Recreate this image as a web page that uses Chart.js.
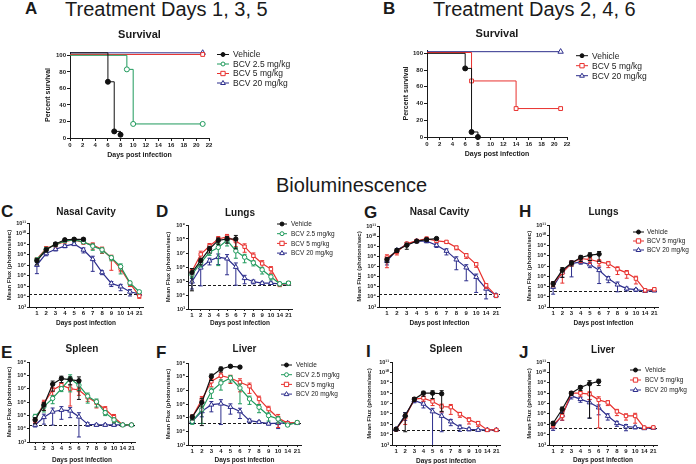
<!DOCTYPE html>
<html lang="en">
<head>
<meta charset="UTF-8">
<title>BCV treatment: survival and bioluminescence</title>
<script src="https://cdn.jsdelivr.net/npm/chart.js"></script>
<style>
  body { margin: 0; background: #fff; }
  #fig { position: relative; width: 696px; height: 464px; overflow: hidden; font-family: "Liberation Sans", Arial, sans-serif; color: #1a1a1a; }
  #fig canvas { position: absolute; }
  .lbl { position: absolute; white-space: nowrap; line-height: 1; }
  .b { font-weight: bold; }
</style>
</head>
<body>
<div id="fig">
  <div class="lbl b" style="left:25px;top:0px;font-size:17px">A</div>
  <div class="lbl" style="left:65px;top:-1px;font-size:20px">Treatment Days 1, 3, 5</div>
  <div class="lbl b" style="left:383px;top:0px;font-size:17px">B</div>
  <div class="lbl" style="left:433px;top:-1px;font-size:20px">Treatment Days 2, 4, 6</div>
  <div class="lbl" style="left:276px;top:175px;font-size:20px">Bioluminescence</div>
  <div class="lbl b" style="left:1px;top:203px;font-size:17px">C</div>
  <div class="lbl b" style="left:156px;top:203px;font-size:17px">D</div>
  <div class="lbl b" style="left:364px;top:204px;font-size:17px">G</div>
  <div class="lbl b" style="left:519px;top:203px;font-size:17px">H</div>
  <div class="lbl b" style="left:1px;top:344px;font-size:17px">E</div>
  <div class="lbl b" style="left:156px;top:344px;font-size:17px">F</div>
  <div class="lbl b" style="left:366px;top:343px;font-size:17px">I</div>
  <div class="lbl b" style="left:519px;top:344px;font-size:17px">J</div>
</div>
<script>
// ---- data ----
const days = ['1', '2', '3', '4', '5', '6', '7', '8', '9', '10', '14', '21'];

// survival (day of each step, percent surviving)
const vehA_days = [0, 6, 7, 8],     vehA_pct = [103, 68, 8, 4];
const bcv25A_days = [0, 9, 10, 21], bcv25A_pct = [100, 83, 17, 17];
const bcv5A_days = [0, 21],         bcv5A_pct = [101, 101];
const bcv20A_days = [0, 21],        bcv20A_pct = [103, 103];

const vehB_days = [0, 6, 7, 8],     vehB_pct = [100, 82, 6, 0];
const bcv5B_days = [0, 7, 14, 21],  bcv5B_pct = [101, 67, 34, 34];
const bcv20B_days = [0, 21],        bcv20B_pct = [102, 102];

// bioluminescence: log10 mean flux, and SEM as fraction of mean
const cVeh = [7.4, 8.45, 9.0, 9.4, 9.45, 9.45],  cVehSem = [0.6, 0.4, 0.4, 0.3, 0.3, 0.3];
const c25 = [7.5, 8.5, 8.95, 9.3, 9.4, 9.2, 8.8, 8.45, 7.7, 6.85, 5.3, 4.45];
const c25Sem = [0.4, 0.4, 0.3, 0.3, 0.3, 0.3, 0.6, 0.5, 0.5, 0.8, 0.4, 0.3];
const c5 = [7.55, 8.6, 8.9, 9.25, 9.4, 9.15, 8.9, 8.5, 7.65, 6.65, 5.25, 4.05];
const c5Sem = [0.3, 0.4, 0.3, 0.3, 0.3, 0.3, 0.6, 0.6, 0.93, 0.5, 0.5, 0.4];
const c20 = [7.0, 8.1, 8.5, 8.8, 9.0, 8.45, 7.55, 6.3, 5.25, 4.95, 4.45, 4.25];
const c20Sem = [0.85, 0.4, 0.3, 0.3, 0.3, 0.5, 0.93, 0.4, 0.5, 0.6, 0.6, 0.3];

const dVeh = [5.6, 6.45, 7.3, 7.9, 8.0, 8.0],  dVehSem = [0.95, 0.5, 0.5, 0.5, 0.5, 0.8];
const d25 = [5.45, 6.3, 7.05, 7.4, 7.9, 7.15, 6.7, 6.3, 5.8, 5.3, 4.8, 4.85];
const d25Sem = [0.4, 0.5, 0.4, 0.95, 0.6, 0.7, 0.6, 0.4, 0.5, 0.4, 0.3, 0.3];
const d5 = [5.7, 6.9, 7.5, 8.0, 8.15, 7.85, 7.45, 6.8, 6.25, 5.85, 4.75, 4.85];
const d5Sem = [0.5, 0.7, 0.5, 0.5, 0.5, 0.6, 0.6, 0.6, 0.6, 0.5, 0.3, 0.3];
const d20 = [4.95, 5.95, 6.45, 6.7, 6.6, 6.0, 5.2, 4.95, 4.85, 4.85, 4.8, 4.8];
const d20Sem = [0.7, 0.95, 0.5, 0.7, 0.93, 0.95, 0.6, 0.3, 0.2, 0.2, 0.2, 0.2];

const eVeh = [4.66, 5.77, 7.34, 7.76, 7.68, 7.59],  eVehSem = [0.5, 0.6, 0.7, 0.5, 0.6, 0.96];
const e25 = [4.9, 5.65, 6.27, 7.0, 7.76, 7.26, 6.44, 6.02, 5.2, 4.66, 4.28, 4.28];
const e25Sem = [0.5, 0.6, 0.6, 0.4, 0.9, 0.6, 0.7, 0.6, 0.4, 0.4, 0.2, 0.2];
const e5 = [4.66, 5.9, 6.9, 7.26, 7.0, 6.9, 6.35, 5.95, 5.45, 4.86, 4.28, 4.28];
const e5Sem = [0.4, 0.7, 0.6, 0.5, 0.95, 0.6, 0.5, 0.6, 0.6, 0.6, 0.2, 0.2];
const e20 = [4.28, 4.86, 5.27, 5.4, 5.35, 4.9, 4.33, 4.28, 4.28, 4.28, 4.28, 4.28];
const e20Sem = [0.3, 0.7, 0.9, 0.8, 0.7, 0.97, 0.3, 0.2, 0.2, 0.2, 0.2, 0.2];

const fVeh = [5.05, 6.12, 8.02, 8.56, 8.76, 8.7],  fVehSem = [0.4, 0.98, 0.5, 0.4, 0.2, 0.2];
const f25 = [4.73, 5.58, 6.93, 7.54, 7.9, 7.17, 6.37, 5.76, 5.15, 4.9, 4.46, 4.65];
const f25Sem = [0.4, 0.9, 0.7, 0.7, 0.5, 0.93, 0.6, 0.6, 0.6, 0.5, 0.2, 0.2];
const f5 = [5.05, 6.32, 7.66, 8.07, 7.9, 7.59, 7.3, 6.37, 5.63, 4.98, 4.6, 4.65];
const f5Sem = [0.4, 0.7, 0.6, 0.6, 0.6, 0.8, 0.7, 0.6, 0.6, 0.8, 0.2, 0.2];
const f20 = [4.73, 5.46, 5.95, 6.02, 5.78, 5.46, 4.78, 4.68, 4.56, 4.6, 4.6, 4.6];
const f20Sem = [0.3, 0.6, 0.7, 0.97, 0.7, 0.7, 0.3, 0.2, 0.2, 0.6, 0.2, 0.2];

const gVeh = [7.68, 8.6, 9.1, 9.5, 9.66, 9.76],  gVehSem = [0.5, 0.4, 0.6, 0.3, 0.3, 0.2];
const g5 = [7.88, 8.44, 9.26, 9.53, 9.76, 9.53, 9.43, 8.87, 8.1, 7.22, 5.14, 4.12];
const g5Sem = [0.9, 0.5, 0.3, 0.3, 0.3, 0.3, 0.3, 0.4, 0.5, 0.5, 0.5, 0.3];
const g20 = [7.55, 8.6, 9.2, 9.5, 9.5, 9.1, 8.54, 7.68, 6.89, 5.96, 4.8, 4.15];
const g20Sem = [0.6, 0.4, 0.4, 0.3, 0.3, 0.4, 0.6, 0.9, 0.95, 0.97, 0.9, 0.4];

const hVeh = [5.28, 6.59, 7.3, 7.83, 8.06, 8.16],  hVehSem = [0.5, 0.8, 0.5, 0.6, 0.7, 0.8];
const h5 = [5.28, 6.33, 7.3, 7.73, 7.63, 7.4, 7.24, 6.69, 6.33, 5.77, 4.63, 4.73];
const h5Sem = [0.5, 0.9, 0.5, 0.6, 0.6, 0.6, 0.6, 0.7, 0.7, 0.7, 0.3, 0.3];
const h20 = [4.95, 6.42, 7.24, 7.4, 7.14, 6.59, 5.77, 5.18, 4.79, 4.69, 4.56, 4.6];
const h20Sem = [0.8, 0.7, 0.95, 0.4, 0.5, 0.95, 0.6, 0.8, 0.4, 0.3, 0.2, 0.2];

const iVeh = [4.52, 5.8, 7.42, 8.0, 8.0, 7.94],  iVehSem = [0.3, 0.97, 0.4, 0.5, 0.7, 0.98];
const i5 = [4.52, 5.68, 7.42, 7.52, 7.2, 6.71, 6.65, 5.97, 5.42, 5.1, 4.45, 4.45];
const i5Sem = [0.3, 0.8, 0.4, 0.5, 0.6, 0.7, 0.8, 0.5, 0.6, 0.5, 0.2, 0.2];
const i20 = [4.52, 5.9, 7.29, 6.97, 6.23, 5.8, 5.26, 4.71, 4.52, 4.45, 4.45, 4.45];
const i20Sem = [0.3, 0.7, 0.4, 0.6, 0.9995, 0.97, 0.6, 0.6, 0.3, 0.2, 0.2, 0.2];

const jVeh = [5.1, 6.45, 8.0, 8.55, 8.9, 9.13],  jVehSem = [0.4, 0.6, 0.4, 0.5, 0.9995, 0.6];
const j5 = [4.94, 5.8, 8.0, 8.0, 7.9, 7.35, 7.1, 6.23, 5.8, 5.8, 4.68, 4.7];
const j5Sem = [0.5, 0.6, 0.4, 0.5, 0.7, 0.998, 0.5, 0.6, 0.6, 0.8, 0.2, 0.2];
const j20 = [4.71, 5.9, 7.74, 7.42, 7.1, 6.61, 5.8, 5.1, 4.77, 4.71, 4.61, 4.65];
const j20Sem = [0.5, 0.7, 0.5, 0.5, 0.97, 0.8, 0.6, 0.5, 0.6, 0.3, 0.2, 0.2];

// limit of detection (log10)
const lodC = 4.28, lodD = 4.7, lodE = 4.29, lodF = 4.6, lodG = 4.31, lodH = 4.56, lodI = 4.42, lodJ = 4.61;

// ---- styling ----
const FONT = "'Liberation Sans', Arial, sans-serif";
const INK = '#1a1a1a';
Chart.defaults.font.family = FONT;
Chart.defaults.color = INK;

const styleOf = {
  'Vehicle':       { color: '#111111', fill: '#111111', shape: 'circle',   r: 2.2 },
  'BCV 2.5 mg/kg': { color: '#1f9a5c', fill: '#ffffff', shape: 'circle',   r: 2.2 },
  'BCV 5 mg/kg':   { color: '#e8312e', fill: '#ffffff', shape: 'rect',     r: 2.4 },
  'BCV 20 mg/kg':  { color: '#2d2e8c', fill: '#ffffff', shape: 'triangle', r: 2.8 }
};

const SUP = '⁰¹²³⁴⁵⁶⁷⁸⁹';
function pow10Label(v) {
  const e = Math.round(Math.log10(v));
  return '10' + String(e).split('').map(d => SUP[+d]).join('');
}

function marker(ctx, shape, x, y, r) {
  ctx.beginPath();
  if (shape === 'rect') {
    ctx.rect(x - r, y - r, 2 * r, 2 * r);
  } else if (shape === 'triangle') {
    ctx.moveTo(x, y - r);
    ctx.lineTo(x + r * 0.95, y + r * 0.6);
    ctx.lineTo(x - r * 0.95, y + r * 0.6);
    ctx.closePath();
  } else {
    ctx.arc(x, y, r, 0, Math.PI * 2);
  }
  ctx.fill();
  ctx.stroke();
}

// error bars: SEM stored as a fraction of the mean
const errorBars = {
  id: 'errorBars',
  beforeDatasetDraw(chart, args) {
    const ds = chart.data.datasets[args.index];
    if (!ds.sem) return;
    const { ctx, scales: { x, y } } = chart;
    ctx.save();
    ctx.strokeStyle = ds.borderColor;
    ctx.lineWidth = 1;
    ds.data.forEach((p, i) => {
      const r = ds.sem[i];
      const px = x.getPixelForValue(p.x);
      const hiV = p.y * (1 + r), loV = p.y * (1 - r);
      const hi = y.getPixelForValue(hiV);
      const lo = y.getPixelForValue(Math.max(loV, y.min));
      ctx.beginPath();
      ctx.moveTo(px, hi); ctx.lineTo(px, lo);
      ctx.moveTo(px - 2, hi); ctx.lineTo(px + 2, hi);
      if (loV > y.min) { ctx.moveTo(px - 2, lo); ctx.lineTo(px + 2, lo); }
      ctx.stroke();
    });
    ctx.restore();
  }
};

const lodLine = {
  id: 'lodLine',
  beforeDatasetsDraw(chart, args, opts) {
    if (opts.value == null) return;
    const { ctx, chartArea, scales: { y } } = chart;
    const py = Math.round(y.getPixelForValue(opts.value)) + 0.5;
    ctx.save();
    ctx.setLineDash([3, 2]);
    ctx.strokeStyle = INK;
    ctx.lineWidth = 1;
    ctx.beginPath();
    ctx.moveTo(chartArea.left, py);
    ctx.lineTo(chartArea.right, py);
    ctx.stroke();
    ctx.restore();
  }
};

const sideLegend = {
  id: 'sideLegend',
  afterDraw(chart, args, opts) {
    if (!opts.display) return;
    const ctx = chart.ctx;
    ctx.save();
    ctx.font = opts.size + 'px ' + FONT;
    ctx.textBaseline = 'middle';
    chart.data.datasets.forEach((ds, i) => {
      const st = styleOf[ds.label];
      const y = opts.y + i * opts.gap;
      ctx.strokeStyle = st.color;
      ctx.lineWidth = 1;
      ctx.beginPath();
      ctx.moveTo(opts.x, y); ctx.lineTo(opts.x + opts.len, y);
      ctx.stroke();
      ctx.fillStyle = st.fill;
      marker(ctx, st.shape, opts.x + opts.len / 2, y, st.r * 0.9);
      ctx.fillStyle = '#222';
      ctx.fillText(ds.label, opts.x + opts.len + opts.pad, y + 0.5);
    });
    ctx.restore();
  }
};

Chart.register(errorBars, lodLine, sideLegend);

const fig = document.getElementById('fig');

// canvas placed so the chart area lands on plot {l,t,r,b}; m = room for axes/title/legend
function place(plot, m) {
  const c = document.createElement('canvas');
  const w = Math.round(plot.r - plot.l + m.l + m.r);
  const h = Math.round(plot.b - plot.t + m.t + m.b);
  c.width = w; c.height = h;
  c.style.left = (plot.l - m.l) + 'px';
  c.style.top = (plot.t - m.t) + 'px';
  c.style.width = w + 'px';
  c.style.height = h + 'px';
  fig.appendChild(c);
  return c;
}

function baseOptions(m, title, titleSize, legend) {
  return {
    responsive: false,
    devicePixelRatio: 1,
    animation: false,
    events: [],
    layout: { padding: { left: 0, top: 0, right: m.r, bottom: 0 } },
    plugins: {
      legend: { display: false },
      tooltip: { enabled: false },
      title: {
        display: true, text: title, fullSize: false, color: INK,
        font: { size: titleSize, weight: 'bold', lineHeight: 1.2 },
        padding: { top: 0, bottom: m.t - titleSize * 1.2 }
      },
      sideLegend: legend,
      lodLine: {}
    }
  };
}

function axisLook(tickLen) {
  return {
    grid: { display: true, drawOnChartArea: false, drawTicks: true, tickLength: tickLen, color: INK },
    border: { display: true, color: INK, width: 1 }
  };
}

function survival(plot, m, title, series, legend) {
  const c = place(plot, m);
  const opts = baseOptions(m, title, 11, legend);
  opts.scales = {
    x: Object.assign(axisLook(3), {
      type: 'linear', min: 0, max: 22,
      afterBuildTicks: s => { s.ticks = [0, 2, 4, 6, 8, 10, 12, 14, 16, 18, 20, 22].map(v => ({ value: v })); },
      afterFit: s => { s.height = m.b; },
      ticks: { font: { size: 6, weight: 'bold' }, padding: 1, maxRotation: 0, autoSkip: false, color: INK },
      title: { display: true, text: 'Days post infection', font: { size: 7, weight: 'bold' }, padding: 0, color: INK }
    }),
    y: Object.assign(axisLook(3), {
      type: 'linear', min: 0, max: 104,
      afterBuildTicks: s => { s.ticks = [0, 10, 20, 30, 40, 50, 60, 70, 80, 90, 100].map(v => ({ value: v })); },
      afterFit: s => { s.width = m.l; },
      ticks: { font: { size: 6, weight: 'bold' }, padding: 1, color: INK },
      title: { display: true, text: 'Percent survival', font: { size: 7, weight: 'bold' }, padding: 0, color: INK }
    })
  };
  new Chart(c, {
    type: 'line',
    data: {
      datasets: series.map(s => {
        const st = styleOf[s.name];
        return {
          label: s.name,
          data: s.days.map((d, i) => ({ x: d, y: s.pct[i] })),
          stepped: 'before',
          borderColor: st.color, borderWidth: 1,
          pointStyle: st.shape,
          pointRadius: ctx => (ctx.dataIndex === 0 ? 0 : st.r + 0.3),
          pointBackgroundColor: st.fill, pointBorderColor: st.color, pointBorderWidth: 1,
          fill: false, clip: false
        };
      })
    },
    options: opts
  });
}

function bio(plot, m, p) {
  const c = place(plot, m);
  const opts = baseOptions(m, p.title, 10, p.legend);
  opts.plugins.lodLine = { value: Math.pow(10, p.lod) };
  const exps = [];
  for (let e = 3; e <= p.top; e++) exps.push(e);
  opts.scales = {
    x: Object.assign(axisLook(2), {
      type: 'linear', min: p.xMin, max: 11.4,
      afterBuildTicks: s => { s.ticks = days.map((d, i) => ({ value: i })); },
      afterFit: s => { s.height = m.b; },
      ticks: { font: { size: 6, weight: 'bold' }, padding: 1, maxRotation: 0, autoSkip: false, color: INK,
               callback: v => days[v] },
      title: { display: true, text: 'Days post infection', font: { size: 6.5, weight: 'bold' }, padding: 0, color: INK }
    }),
    y: Object.assign(axisLook(2), {
      type: 'logarithmic', min: 1e3, max: Math.pow(10, p.top),
      afterBuildTicks: s => { s.ticks = exps.map(e => ({ value: Math.pow(10, e) })); },
      afterFit: s => { s.width = m.l; },
      ticks: { font: { size: 5.5, weight: 'bold' }, padding: 1, color: INK, callback: v => pow10Label(v) },
      title: { display: true, text: 'Mean Flux (photons/sec)', font: { size: 6, weight: 'bold' }, padding: 0, color: INK }
    })
  };
  new Chart(c, {
    type: 'line',
    data: {
      datasets: p.series.map(s => {
        const st = styleOf[s.name];
        return {
          label: s.name,
          data: s.log.map((v, i) => ({ x: i, y: Math.pow(10, v) })),
          sem: s.sem,
          borderColor: st.color, borderWidth: 1.2,
          pointStyle: st.shape, pointRadius: st.r,
          pointBackgroundColor: st.fill, pointBorderColor: st.color, pointBorderWidth: 1,
          tension: 0, fill: false, clip: false
        };
      })
    },
    options: opts
  });
}

function legendAt(plot, m, x, y, gap, size, len, pad) {
  return { display: true, x: x - (plot.l - m.l), y: y - (plot.t - m.t), gap: gap, size: size, len: len, pad: pad };
}

// ---- survival panels ----
(function () {
  const pA = { l: 70, t: 52, r: 209, b: 138 }, mA = { l: 26, t: 24, r: 91, b: 21 };
  survival(pA, mA, 'Survival', [
    { name: 'Vehicle', days: vehA_days, pct: vehA_pct },
    { name: 'BCV 2.5 mg/kg', days: bcv25A_days, pct: bcv25A_pct },
    { name: 'BCV 5 mg/kg', days: bcv5A_days, pct: bcv5A_pct },
    { name: 'BCV 20 mg/kg', days: bcv20A_days, pct: bcv20A_pct }
  ], legendAt(pA, mA, 217, 54.5, 9.5, 8.5, 12, 4));

  const pB = { l: 427, t: 50, r: 567, b: 137 }, mB = { l: 25, t: 23, r: 100, b: 21 };
  survival(pB, mB, 'Survival', [
    { name: 'Vehicle', days: vehB_days, pct: vehB_pct },
    { name: 'BCV 5 mg/kg', days: bcv5B_days, pct: bcv5B_pct },
    { name: 'BCV 20 mg/kg', days: bcv20B_days, pct: bcv20B_pct }
  ], legendAt(pB, mB, 576, 55.7, 10, 8.5, 12, 4));
})();

// ---- bioluminescence panels ----
function four(veh, vehSem, a, aSem, b, bSem, c, cSem) {
  return [
    { name: 'Vehicle', log: veh, sem: vehSem },
    { name: 'BCV 2.5 mg/kg', log: a, sem: aSem },
    { name: 'BCV 5 mg/kg', log: b, sem: bSem },
    { name: 'BCV 20 mg/kg', log: c, sem: cSem }
  ];
}
function three(veh, vehSem, b, bSem, c, cSem) {
  return [
    { name: 'Vehicle', log: veh, sem: vehSem },
    { name: 'BCV 5 mg/kg', log: b, sem: bSem },
    { name: 'BCV 20 mg/kg', log: c, sem: cSem }
  ];
}

(function () {
  let p, m;
  p = { l: 29, t: 223, r: 143, b: 307 }; m = { l: 23, t: 17, r: 6, b: 20 };
  bio(p, m, { title: 'Nasal Cavity', top: 11, lod: lodC, xMin: -0.85, legend: { display: false },
    series: four(cVeh, cVehSem, c25, c25Sem, c5, c5Sem, c20, c20Sem) });

  p = { l: 188, t: 225, r: 292, b: 309 }; m = { l: 23, t: 18, r: 45, b: 18 };
  bio(p, m, { title: 'Lungs', top: 9, lod: lodD, xMin: -0.45, legend: legendAt(p, m, 277, 224, 9.7, 6.5, 10, 4),
    series: four(dVeh, dVehSem, d25, d25Sem, d5, d5Sem, d20, d20Sem) });

  p = { l: 29, t: 362, r: 135, b: 442 }; m = { l: 23, t: 19, r: 6, b: 22 };
  bio(p, m, { title: 'Spleen', top: 9, lod: lodE, xMin: -0.7, legend: { display: false },
    series: four(eVeh, eVehSem, e25, e25Sem, e5, e5Sem, e20, e20Sem) });

  p = { l: 188, t: 363, r: 301, b: 445 }; m = { l: 23, t: 20, r: 50, b: 19 };
  bio(p, m, { title: 'Liver', top: 9, lod: lodF, xMin: -0.45, legend: legendAt(p, m, 281, 365, 9.7, 6.5, 11, 4),
    series: four(fVeh, fVehSem, f25, f25Sem, f5, f5Sem, f20, f20Sem) });

  p = { l: 379, t: 226, r: 500, b: 307 }; m = { l: 23, t: 20, r: 6, b: 20 };
  bio(p, m, { title: 'Nasal Cavity', top: 11, lod: lodG, xMin: -0.8, legend: { display: false },
    series: three(gVeh, gVehSem, g5, g5Sem, g20, g20Sem) });

  p = { l: 549, t: 225, r: 658, b: 307 }; m = { l: 23, t: 19, r: 50, b: 20 };
  bio(p, m, { title: 'Lungs', top: 11, lod: lodH, xMin: -0.45, legend: legendAt(p, m, 633, 232, 9, 6.5, 11, 3),
    series: three(hVeh, hVehSem, h5, h5Sem, h20, h20Sem) });

  p = { l: 392, t: 362, r: 500, b: 445 }; m = { l: 26, t: 19, r: 6, b: 20 };
  bio(p, m, { title: 'Spleen', top: 11, lod: lodI, xMin: -0.45, legend: { display: false },
    series: three(iVeh, iVehSem, i5, i5Sem, i20, i20Sem) });

  p = { l: 549, t: 362, r: 657, b: 445 }; m = { l: 23, t: 18, r: 50, b: 19 };
  bio(p, m, { title: 'Liver', top: 11, lod: lodJ, xMin: -0.45, legend: legendAt(p, m, 630, 370, 10, 6.5, 11, 4),
    series: three(jVeh, jVehSem, j5, j5Sem, j20, j20Sem) });
})();
</script>
</body>
</html>
